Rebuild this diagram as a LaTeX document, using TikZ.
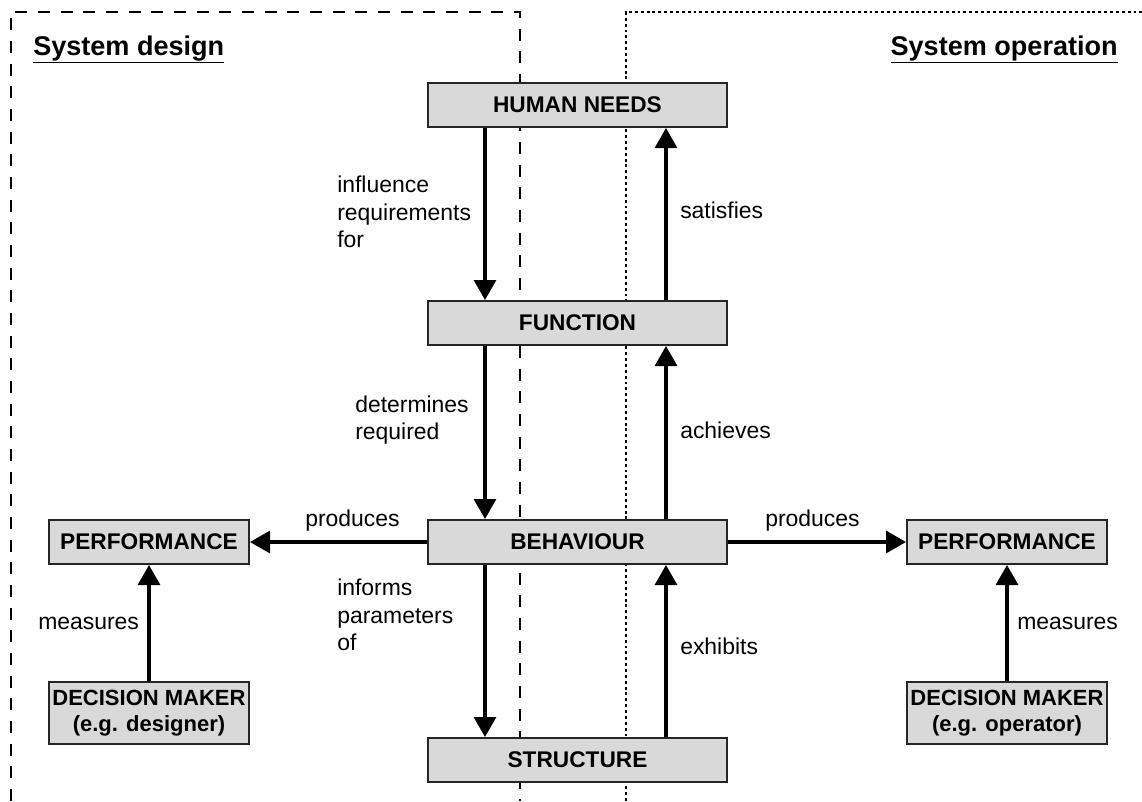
\documentclass[tikz,border=0pt]{standalone}
\usepackage{fontspec}
\setmainfont{Liberation Sans}
\usetikzlibrary{arrows.meta}
\begin{document}
\begin{tikzpicture}[x=0.75pt,y=-0.75pt,
  block/.style={draw=black!85,line width=1.5pt,fill=black!15,minimum width=224pt,minimum height=33pt,
    font=\fontsize{17}{19}\selectfont\bfseries,inner sep=0pt},
  smallblock/.style={block,minimum width=150pt,align=center},
  dmblock/.style={block,minimum width=150pt,minimum height=47pt,align=center,
    font=\fontsize{16.5}{20}\selectfont\bfseries},
  flow/.style={line width=2.3pt,-{Triangle[width=16.5pt,length=15pt]}},
  lbl/.style={font=\fontsize{17.2}{20.5}\selectfont,align=left,inner sep=0pt,anchor=west},
  title/.style={font=\fontsize{20.3}{22}\selectfont\bfseries,inner sep=0pt},
  zone/.style={line width=1pt}]
\useasboundingbox (0,0) rectangle (1142,801);

% design and operation zones
\draw[zone,dash pattern=on 9pt off 8pt] (11,801) -- (11,12) -- (520,12) -- (520,801);
\draw[zone,dash pattern=on 2.2pt off 2.2pt] (626,801) -- (626,12) -- (1142,12);

\node[title,anchor=base west] (tdesign) at (33,55) {\underline{System design}};
\node[title,anchor=base east] (toper) at (1118,55) {\underline{System operation}};

% main chain
\node[block] (needs) at (577.5,105) {HUMAN NEEDS};
\node[block] (func) at (577.5,323) {FUNCTION};
\node[block] (beh) at (577.5,542) {BEHAVIOUR};
\node[block] (struct) at (577.5,760) {STRUCTURE};

% side blocks
\node[smallblock] (perfL) at (149,542) {PERFORMANCE};
\node[smallblock] (perfR) at (1007,542) {PERFORMANCE};
\node[dmblock] (dmL) at (149,713) {DECISION MAKER\\(e.g. designer)};
\node[dmblock] (dmR) at (1007,713) {DECISION MAKER\\(e.g. operator)};

% downward links
\draw[flow] (needs.south -| 485,0) -- (func.north -| 485,0);
\draw[flow] (func.south -| 485,0) -- (beh.north -| 485,0);
\draw[flow] (beh.south -| 485,0) -- (struct.north -| 485,0);
% upward links
\draw[flow] (func.north -| 666,0) -- (needs.south -| 666,0);
\draw[flow] (beh.north -| 666,0) -- (func.south -| 666,0);
\draw[flow] (struct.north -| 666,0) -- (beh.south -| 666,0);
% performance links
\draw[flow] (beh.west) -- (perfL.east);
\draw[flow] (beh.east) -- (perfR.west);
\draw[flow] (dmL.north) -- (perfL.south);
\draw[flow] (dmR.north) -- (perfR.south);

% link labels
\node[lbl] (l1) at (337,212) {influence\\requirements\\for};
\node[lbl] (l2) at (680,210) {satisfies};
\node[lbl] (l3) at (355,420) {determines\\required};
\node[lbl] (l4) at (680,430) {achieves};
\node[lbl] (l5) at (337,615) {informs\\parameters\\of};
\node[lbl] (l6) at (680,646) {exhibits};
\node[lbl] (l7) at (305,521) {produces};
\node[lbl] (l8) at (765,521) {produces};
\node[lbl] (l9) at (38,623) {measures};
\node[lbl] (l10) at (1017,623) {measures};
\end{tikzpicture}
\end{document}
